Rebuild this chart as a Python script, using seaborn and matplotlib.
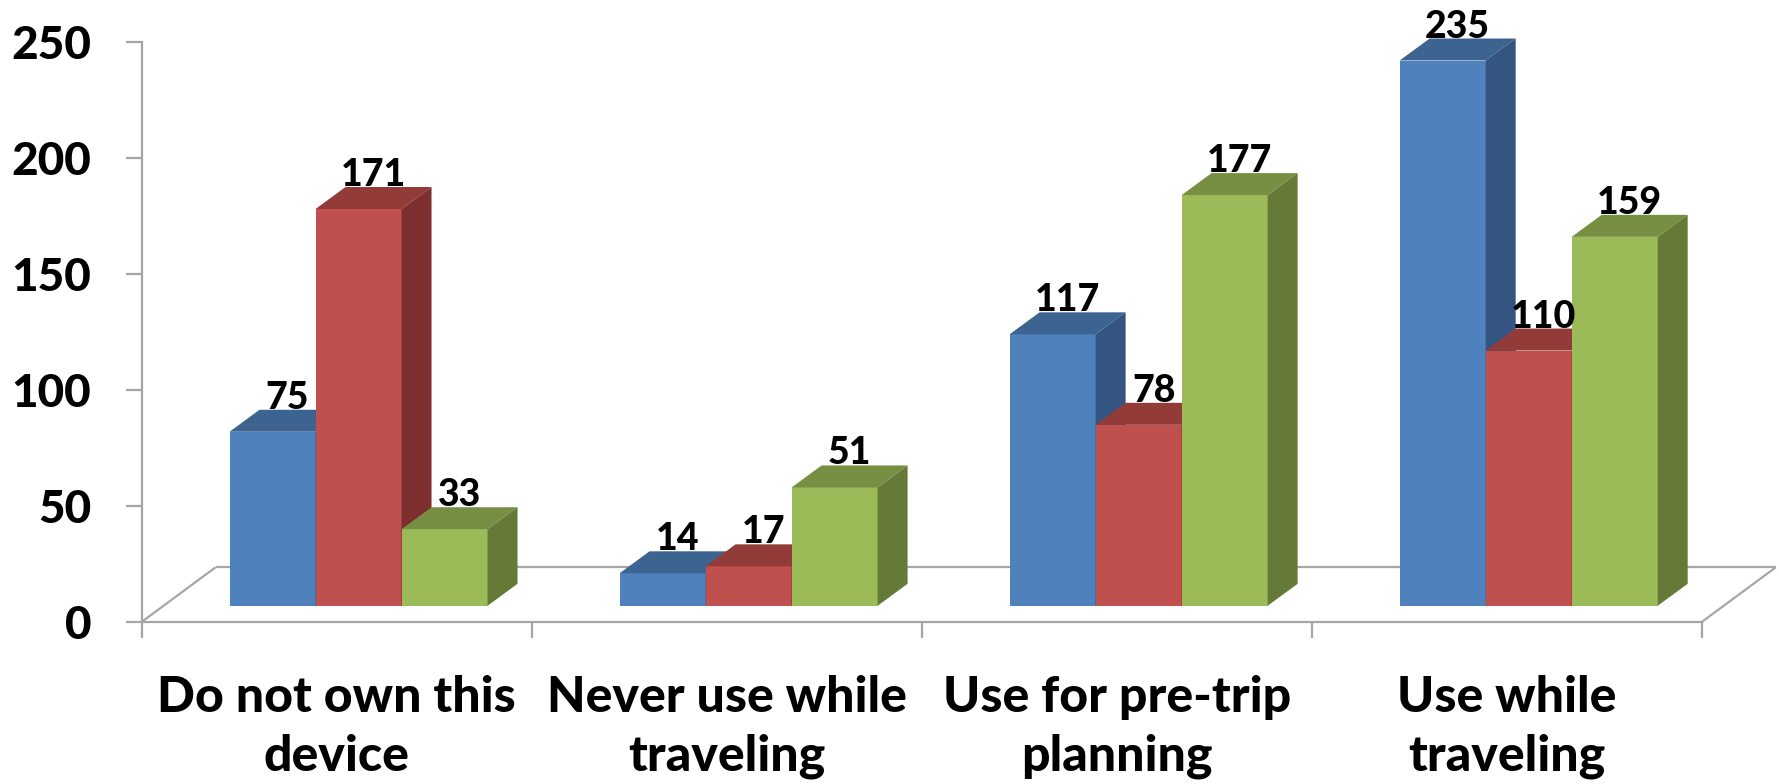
import numpy as np
import pandas as pd
import matplotlib
matplotlib.use("Agg")
import matplotlib.pyplot as plt
import seaborn as sns
from matplotlib.patches import Polygon
from matplotlib.lines import Line2D

# ---- data -------------------------------------------------------------
categories = ["Do not own this\ndevice", "Never use while\ntraveling",
              "Use for pre-trip\nplanning", "Use while\ntraveling"]
series = ["Series 1", "Series 2", "Series 3"]
series1 = [75, 14, 117, 235]
series2 = [171, 17, 78, 110]
series3 = [33, 51, 177, 159]
y_ticks = [0, 50, 100, 150, 200, 250]

# ---- style ------------------------------------------------------------
front_colors = ["#4F81BD", "#C0504D", "#9BBB59"]
top_colors = ["#3D6491", "#923B39", "#778F43"]
side_colors = ["#345481", "#7C2F2E", "#667A38"]
grid_gray = "#A6A6A6"
TEXT_WEIGHT = 900

W, H, DPI = 1779, 784, 100
# oblique projection offsets, in pixels (right, up)
FLOOR_DEPTH = (73.8, 54.5)
BAR_FRONT = (21.7, 16.0)
BAR_DEPTH = (30.0, 22.0)

sns.set_theme(style="white")
plt.rcParams["font.family"] = ["Lato", "DejaVu Sans"]
plt.rcParams["font.weight"] = "bold"

rows = []
for name, vals in zip(series, [series1, series2, series3]):
    for cat, v in zip(categories, vals):
        rows.append({"category": cat, "series": name, "value": v})
df = pd.DataFrame(rows)

fig = plt.figure(figsize=(W / DPI, H / DPI), dpi=DPI)
ax_left, ax_right, ax_top, ax_bottom = 141.8, 1702.0, 41.7, 621.8
ax = fig.add_axes([ax_left / W, (H - ax_bottom) / H,
                   (ax_right - ax_left) / W, (ax_bottom - ax_top) / H])

sns.barplot(data=df, x="category", y="value", hue="series",
            palette=front_colors, width=0.6615, saturation=1,
            errorbar=None, legend=False, linewidth=0, ax=ax)

ax.set_xlim(-0.5, 3.5)
ax.set_ylim(0, 250)

# pixel -> data conversion
sx = 4.0 / (ax_right - ax_left)
sy = 250.0 / (ax_bottom - ax_top)
fdx, fdy = FLOOR_DEPTH[0] * sx, FLOOR_DEPTH[1] * sy
bfx, bfy = BAR_FRONT[0] * sx, BAR_FRONT[1] * sy
bdx, bdy = BAR_DEPTH[0] * sx, BAR_DEPTH[1] * sy

# floor outline
floor_kw = dict(color=grid_gray, lw=1.6, zorder=1, clip_on=False,
                solid_capstyle="butt")
ax.add_line(Line2D([-0.5 + fdx, 3.5 + fdx], [fdy, fdy], **floor_kw))
ax.add_line(Line2D([-0.5, -0.5 + fdx], [0, fdy], **floor_kw))
ax.add_line(Line2D([3.5, 3.5 + fdx], [0, fdy], **floor_kw))

# extrude each bar into a box
for i, cont in enumerate(ax.containers):
    for bar in cont:
        x0 = bar.get_x() + bfx
        w = bar.get_width()
        h = bar.get_height()
        bar.set_x(x0)
        bar.set_y(bfy)
        bar.set_zorder(3 + i)
        bar.set_clip_on(False)
        x1 = x0 + w
        top = bfy + h
        ax.add_patch(Polygon([(x0, top), (x1, top), (x1 + bdx, top + bdy),
                              (x0 + bdx, top + bdy)], closed=True,
                             facecolor=top_colors[i], lw=0, zorder=3 + i,
                             clip_on=False))
        ax.add_patch(Polygon([(x1, bfy), (x1, top), (x1 + bdx, top + bdy),
                              (x1 + bdx, bfy + bdy)], closed=True,
                             facecolor=side_colors[i], lw=0, zorder=3 + i,
                             clip_on=False))
        ax.text(x0 + w / 2 + bdx / 2, top + bdy + 1.0 * sy, f"{h:.0f}",
                ha="center", va="baseline", fontsize=27,
                fontweight=TEXT_WEIGHT, color="black", zorder=10)

# axes: left axis line, front floor edge
for side in ["top", "right"]:
    ax.spines[side].set_visible(False)
for side in ["left", "bottom"]:
    ax.spines[side].set_color(grid_gray)
    ax.spines[side].set_linewidth(1.6)
    ax.spines[side].set_zorder(1)

ax.set_yticks(y_ticks)
ax.set_yticklabels([str(t) for t in y_ticks], fontsize=33,
                   fontweight=TEXT_WEIGHT, color="black")
ax.tick_params(axis="y", direction="out", length=11.5, width=1.6,
               color=grid_gray, pad=25, left=True)

ax.set_xticks(range(len(categories)))
ax.set_xticklabels(categories, fontsize=36, fontweight=TEXT_WEIGHT,
                   color="black", linespacing=1.38)
ax.set_xticks(np.arange(-0.5, len(categories)), minor=True)
ax.tick_params(axis="x", which="major", length=0, pad=38)
ax.tick_params(axis="x", which="minor", direction="out", length=11.5,
               width=1.6, color=grid_gray, bottom=True)
ax.set_xlabel("")
ax.set_ylabel("")
ax.grid(False)

fig.savefig("out.png", dpi=DPI, facecolor="white")
